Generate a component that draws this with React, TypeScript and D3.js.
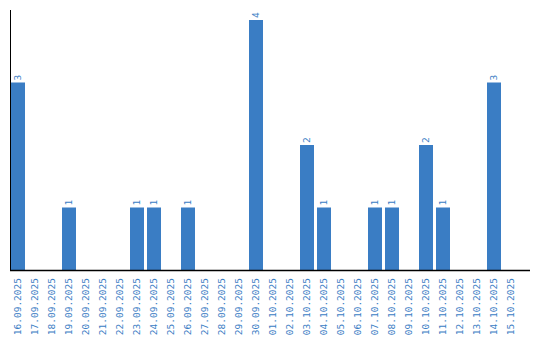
import React from "react";
import * as d3 from "d3";

const dates = [
  "16.09.2025","17.09.2025","18.09.2025","19.09.2025","20.09.2025","21.09.2025","22.09.2025","23.09.2025","24.09.2025","25.09.2025",
  "26.09.2025","27.09.2025","28.09.2025","29.09.2025","30.09.2025","01.10.2025","02.10.2025","03.10.2025","04.10.2025","05.10.2025",
  "06.10.2025","07.10.2025","08.10.2025","09.10.2025","10.10.2025","11.10.2025","12.10.2025","13.10.2025","14.10.2025","15.10.2025",
];
const counts = [3,0,0,1,0,0,0,1,1,0, 1,0,0,0,4,0,0,2,1,0, 0,1,1,0,2,1,0,0,3,0];

const color = "#3a7dc4";
const font = "'DejaVu Sans Mono', monospace";

export default function App() {
  const W = 540, H = 340;
  const left = 11, base = 270;
  const step = 17, bw = 14;
  const x = d3
    .scaleBand<string>()
    .domain(dates)
    .range([left, left + step * dates.length - (step - bw)])
    .paddingInner((step - bw) / step)
    .paddingOuter(0);
  const y = d3.scaleLinear().domain([0, 4]).range([base, 20]);
  return (
    <svg width={W} height={H} style={{ position: "absolute", left: 0, top: 0 }}>
      {dates.map((d, i) => {
        const v = counts[i];
        if (!v) return null;
        const bx = x(d)!;
        const w = x.bandwidth();
        return (
          <g key={d}>
            <rect x={bx} y={y(v)} width={w} height={base - y(v)} fill={color} />
            <text
              transform={`translate(${bx + w / 2},${y(v) - 2}) rotate(-90)`}
              fontFamily={font}
              fontSize={9.5}
              fill={color}
              dominantBaseline="middle"
              textAnchor="start"
            >
              {v}
            </text>
          </g>
        );
      })}
      <line x1={10.5} x2={10.5} y1={10} y2={270} stroke="#000" strokeWidth={1} />
      <line x1={10} x2={530} y1={270.5} y2={270.5} stroke="#000" strokeWidth={1.5} />
      {dates.map((d) => (
        <text
          key={d}
          transform={`translate(${x(d)! + x.bandwidth() / 2},${278}) rotate(-90)`}
          fontFamily={font}
          fontSize={9.5}
          fill={color}
          dominantBaseline="middle"
          textAnchor="end"
        >
          {d}
        </text>
      ))}
    </svg>
  );
}
